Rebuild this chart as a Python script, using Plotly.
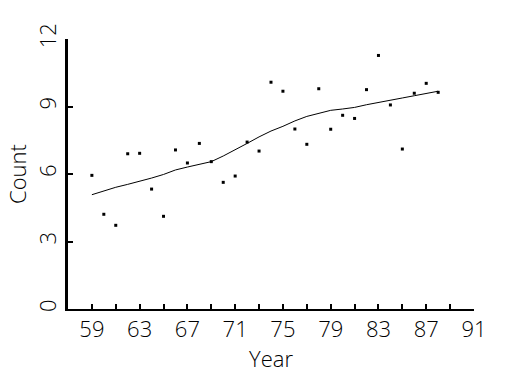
import plotly.graph_objects as go

years = list(range(59, 89))
counts = [5.94, 4.21, 3.72, 6.90, 6.92, 5.33, 4.12, 7.07, 6.49, 7.36,
          6.55, 5.63, 5.91, 7.42, 7.02, 10.08, 9.68, 8.00, 7.32, 9.79,
          7.99, 8.61, 8.47, 9.75, 11.27, 9.07, 7.11, 9.59, 10.03, 9.63]
smooth = [5.08, 5.26, 5.41, 5.54, 5.67, 5.82, 5.98, 6.18, 6.31, 6.43,
          6.55, 6.80, 7.07, 7.36, 7.65, 7.91, 8.12, 8.36, 8.56, 8.71,
          8.83, 8.89, 8.96, 9.08, 9.17, 9.26, 9.38, 9.48, 9.59, 9.68]
x_tick_start, x_tick_step, x_minor_step = 59, 4, 2
y_tick_step = 3
x_range = [57, 91.001]
y_range = [0, 12.001]

FONT = dict(family="Open Sans", size=22, color="#000000", weight=300)

fig = go.Figure()
fig.add_trace(go.Scatter(x=years, y=smooth, mode="lines", xaxis="x2",
                         line=dict(color="black", width=1), hoverinfo="skip"))
fig.add_trace(go.Scatter(x=years, y=counts, mode="markers",
                         marker=dict(color="black", size=3, symbol="square")))

fig.update_layout(
    width=525, height=375,
    margin=dict(l=68, r=51, t=39, b=66),
    paper_bgcolor="white", plot_bgcolor="white",
    showlegend=False,
    font=FONT,
    xaxis=dict(range=x_range, tickmode="linear", tick0=x_tick_start, dtick=x_tick_step,
               ticks="inside", ticklen=5, tickwidth=1.5, tickcolor="#000000",
               showline=True, linecolor="#000000", linewidth=1.5,
               showgrid=False, zeroline=False, tickfont=FONT,
               title=dict(text="Year", font=FONT, standoff=4)),
    xaxis2=dict(range=x_range, overlaying="x", side="bottom", tickmode="linear",
                tick0=x_tick_start, dtick=x_minor_step, ticks="inside", ticklen=5,
                tickwidth=1.5, tickcolor="#000000", showticklabels=False,
                showline=False, showgrid=False, zeroline=False),
    yaxis=dict(range=y_range, tickmode="linear", tick0=0, dtick=y_tick_step,
               ticks="inside", ticklen=5, tickwidth=1.5, tickcolor="#000000",
               showline=True, linecolor="#000000", linewidth=2.5,
               showgrid=False, zeroline=False, tickangle=-90, tickfont=FONT,
               title=dict(text="Count", font=FONT, standoff=0)),
)

fig.write_html("out.html")
